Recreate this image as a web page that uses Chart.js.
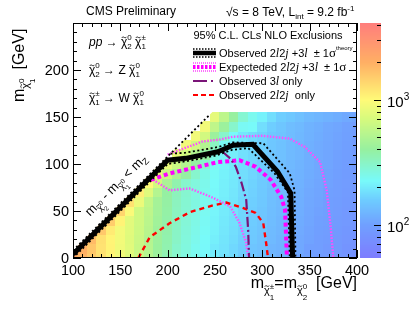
<!DOCTYPE html>
<html>
<head>
<meta charset="utf-8">
<script src="https://cdn.jsdelivr.net/npm/chart.js@4.4.1/dist/chart.umd.min.js"></script>
<style>
html, body { margin: 0; padding: 0; background: #fff; }
canvas { display: block; }
</style>
</head>
<body>
<canvas id="limitChart" width="416" height="310"></canvas>
<script>
// ============================================================================
// Data
// ============================================================================
const N = null;

// heat map cells: centres in chargino/neutralino2 mass (x) and LSP mass (y)
const cellX = [100, 110, 120, 130, 140, 150, 160, 170, 180, 190, 200, 210, 220, 230, 240, 250,
               260, 270, 280, 290, 300, 310, 320, 330, 340, 350, 360, 370, 380, 390, 400];
const cellY = [0, 10, 20, 30, 40, 50, 60, 70, 80, 90, 100, 110, 120, 130, 140, 150];

// cross section upper limit [fb], one row per cellY
const zRows = [
  [2240,1900,1560,1280,1040,900,750,640,520,430,350,305,262,243,218,203,184,176,156,150,136,128,118,113,105,101,94,92,86,84,78],
  [N,2000,1600,1250,1070,880,770,620,530,415,360,298,268,238,222,198,188,172,160,146,140,125,121,110,108,99,96,90,88,82,80],
  [N,N,1780,1270,1060,895,760,635,520,425,365,310,272,245,226,205,190,178,162,152,141,130,123,115,109,103,97,94,89,85,81],
  [N,N,N,1580,1150,900,770,650,540,430,370,312,275,250,230,210,194,180,166,154,144,132,125,117,111,104,99,95,91,86,83],
  [N,N,N,N,1510,1070,780,660,550,440,375,318,280,254,233,212,197,184,168,157,146,134,127,119,113,106,100,97,92,88,84],
  [N,N,N,N,N,1410,960,660,560,450,382,322,285,258,237,215,200,187,170,159,148,136,129,120,115,107,102,98,93,89,85],
  [N,N,N,N,N,N,1260,850,590,455,387,327,289,262,240,218,203,190,172,161,150,138,131,122,117,109,104,99,95,90,86],
  [N,N,N,N,N,N,N,1120,760,520,392,332,293,265,243,221,206,192,175,164,152,139,133,124,118,110,105,100,96,92,87],
  [N,N,N,N,N,N,N,N,1000,680,480,365,298,270,246,224,208,195,177,166,154,141,134,125,120,112,106,102,97,93,88],
  [N,N,N,N,N,N,N,N,N,890,630,480,390,298,252,228,211,198,180,168,157,143,136,127,121,114,108,103,99,94,90],
  [N,N,N,N,N,N,N,N,N,N,830,630,515,390,298,232,214,200,182,170,159,145,138,129,123,115,109,105,100,95,91],
  [N,N,N,N,N,N,N,N,N,N,N,830,680,515,390,250,217,203,184,172,161,147,140,130,125,117,111,106,101,97,92],
  [N,N,N,N,N,N,N,N,N,N,N,N,890,676,514,320,232,206,187,175,163,149,142,132,126,118,112,107,103,98,93],
  [N,N,N,N,N,N,N,N,N,N,N,N,N,890,676,420,300,222,192,178,166,151,144,134,128,120,114,109,104,100,95],
  [N,N,N,N,N,N,N,N,N,N,N,N,N,N,890,570,420,300,232,225,180,160,148,136,130,122,116,110,106,101,96],
  [N,N,N,N,N,N,N,N,N,N,N,N,N,N,N,800,560,400,290,240,210,180,160,150,140,130,125,120,115,110,105]
];

// colour axis range and ticks
const zMin = 54;
const zMax = 4130;
const zMajor = [100, 1000];
const zMinor = [60, 70, 80, 90, 200, 300, 400, 500, 600, 700, 800, 900, 2000, 3000, 4000];

// frame ticks
const xTicks = [100, 150, 200, 250, 300, 350, 400];
const yTicks = [0, 50, 100, 150, 200];

// exclusion contours
const obsX = [100, 200, 219, 253, 269, 290, 316, 330, 332];
const obsY = [4, 104, 106, 113, 120, 121, 92, 69, 0];
const obsUpDiagX = [100, 244];
const obsUpDiagY = [8, 152];
const obsUpX = [203, 219, 253, 269, 301, 329, 334, 335];
const obsUpY = [111, 112, 118, 123, 122, 90, 72, 0];
const obsDownX = [100, 200, 220, 251, 268, 285, 313, 327, 329];
const obsDownY = [0, 100, 103, 109, 115, 117, 90, 70, 0];

const expX = [182, 202, 228, 253, 276, 293, 309, 320, 324, 326];
const expY = [83, 90, 96, 102, 104, 97, 83, 65, 51, 0];
const expUpX = [200, 213, 237, 255, 269, 300, 329, 345, 361, 368, 372, 375];
const expUpY = [110, 115, 124, 126, 129, 130, 127, 118, 102, 72, 35, 0];
const expDownX = [182, 202, 223, 241, 248, 266, 276, 283, 285];
const expDownY = [85, 72, 74, 67, 64, 55, 37, 16, 0];

const threeLepX = [258, 266, 272, 278, 283, 285, 286];
const threeLepY = [113, 106, 97, 80, 62, 30, 0];
const twoLepX = [169, 181, 202, 224, 248, 262, 280, 293, 301, 304, 306];
const twoLepY = [0, 22, 37, 49, 56, 59, 53, 48, 37, 16, 0];

// ============================================================================
// Styles and helpers
// ============================================================================
const SANS = '"Liberation Sans", Arial, Helvetica, sans-serif';
const SERIF = '"Liberation Serif", "Times New Roman", serif';
const MAGENTA = '#ff00ff';
const MAGENTA_LIGHT = '#ff4dff';
const PURPLE = '#7a1478';

const f = (px, style) => `${style ? style + ' ' : ''}${px}px ${SANS}`;
const fserif = (px, style) => `${style ? style + ' ' : ''}${px}px ${SERIF}`;
// chi with a tilde drawn on top
const chi = (px, dy) => ({ t: '\u03c7', f: f(px), dy: dy || 0, tilde: px });

const paletteStops = [1.74, 2.0, 2.2, 2.35, 2.6, 2.85, 3.0, 3.3, 3.62];
const paletteRGB = [
  [125, 125, 255], [112, 160, 255], [110, 205, 255], [120, 250, 250], [150, 240, 160],
  [215, 250, 125], [255, 250, 120], [255, 175, 100], [255, 125, 125]
];

function zColor(z) {
  const t = Math.log10(z);
  if (t <= paletteStops[0]) return `rgb(${paletteRGB[0].join(',')})`;
  for (let i = 1; i < paletteStops.length; i++) {
    if (t <= paletteStops[i]) {
      const k = (t - paletteStops[i - 1]) / (paletteStops[i] - paletteStops[i - 1]);
      const a = paletteRGB[i - 1], b = paletteRGB[i];
      const c = a.map((v, j) => Math.round(v + (b[j] - v) * k));
      return `rgb(${c.join(',')})`;
    }
  }
  return `rgb(${paletteRGB[paletteRGB.length - 1].join(',')})`;
}

function pts(xs, ys) {
  return xs.map((v, i) => ({ x: v, y: ys[i] }));
}

function richWidth(ctx, parts) {
  let w = 0;
  parts.forEach(p => {
    ctx.font = p.f;
    if (p.st) w += Math.max(ctx.measureText(p.st[0]).width, ctx.measureText(p.st[1]).width);
    else w += ctx.measureText(p.t).width;
  });
  return w;
}

function drawRich(ctx, x, y, parts, align) {
  let cx = x;
  const w = richWidth(ctx, parts);
  if (align === 'center') cx -= w / 2;
  else if (align === 'right') cx -= w;
  ctx.textAlign = 'left';
  ctx.textBaseline = 'alphabetic';
  parts.forEach(p => {
    ctx.font = p.f;
    if (p.st) {
      const d = p.dys || [-6, 3];
      ctx.fillText(p.st[0], cx, y + d[0]);
      ctx.fillText(p.st[1], cx, y + d[1]);
      cx += Math.max(ctx.measureText(p.st[0]).width, ctx.measureText(p.st[1]).width);
    } else {
      const by = y + (p.dy || 0);
      const tw = ctx.measureText(p.t).width;
      ctx.fillText(p.t, cx, by);
      if (p.tilde) {
        const s = p.tilde, x0 = cx + tw * 0.12, x1 = cx + tw * 0.88, ty = by - s * 0.72, amp = s * 0.09;
        ctx.save();
        ctx.strokeStyle = ctx.fillStyle;
        ctx.lineWidth = Math.max(0.8, s * 0.07);
        ctx.beginPath();
        ctx.moveTo(x0, ty + amp * 0.5);
        ctx.bezierCurveTo(x0 + (x1 - x0) * 0.35, ty - amp * 2, x0 + (x1 - x0) * 0.65, ty + amp * 2, x1, ty - amp * 0.5);
        ctx.stroke();
        ctx.restore();
      }
      cx += tw;
    }
  });
}

function line(ctx, x0, y0, x1, y1, color, width, dash) {
  ctx.save();
  ctx.strokeStyle = color;
  ctx.lineWidth = width;
  ctx.setLineDash(dash || []);
  ctx.beginPath();
  ctx.moveTo(x0, y0);
  ctx.lineTo(x1, y1);
  ctx.stroke();
  ctx.restore();
}

// ============================================================================
// ROOT-like decorations plugin
// ============================================================================
const rootStyle = {
  id: 'rootStyle',
  beforeDraw(chart) {
    const ctx = chart.ctx;
    ctx.save();
    ctx.fillStyle = '#fff';
    ctx.fillRect(0, 0, chart.width, chart.height);
    ctx.restore();
  },
  beforeDatasetsDraw(chart) {
    const { ctx, chartArea: a, scales: { x, y } } = chart;
    // cells only below the kinematic boundary (upper dotted diagonal)
    const slope = (obsUpDiagY[1] - obsUpDiagY[0]) / (obsUpDiagX[1] - obsUpDiagX[0]);
    const xTop = obsUpDiagX[0] + (y.max - obsUpDiagY[0]) / slope;
    ctx.save();
    ctx.beginPath();
    ctx.rect(a.left, a.top, a.right - a.left, a.bottom - a.top);
    ctx.clip();
    ctx.beginPath();
    ctx.moveTo(x.getPixelForValue(obsUpDiagX[0]), y.getPixelForValue(obsUpDiagY[0]));
    ctx.lineTo(x.getPixelForValue(xTop), y.getPixelForValue(y.max));
    ctx.lineTo(x.getPixelForValue(x.max), y.getPixelForValue(y.max));
    ctx.lineTo(x.getPixelForValue(x.max), y.getPixelForValue(y.min));
    ctx.lineTo(x.getPixelForValue(x.min), y.getPixelForValue(y.min));
    ctx.lineTo(x.getPixelForValue(x.min), y.getPixelForValue(obsUpDiagY[0]));
    ctx.closePath();
    ctx.clip();
    zRows.forEach((row, r) => row.forEach((z, c) => {
      if (z === null) return;
      const x0 = Math.floor(x.getPixelForValue(cellX[c] - 5));
      const x1 = Math.ceil(x.getPixelForValue(cellX[c] + 5));
      const y0 = Math.floor(y.getPixelForValue(cellY[r] + 5));
      const y1 = Math.ceil(y.getPixelForValue(cellY[r] - 5));
      ctx.fillStyle = zColor(z);
      ctx.fillRect(x0, y0, x1 - x0, y1 - y0);
    }));
    ctx.restore();
  },
  afterDatasetsDraw(chart) {
    const { ctx, chartArea: a, scales: { x, y, z } } = chart;
    ctx.save();

    // frame
    ctx.strokeStyle = '#000';
    ctx.lineWidth = 1;
    ctx.strokeRect(a.left + 0.5, a.top + 0.5, a.right - a.left - 1, a.bottom - a.top - 1);

    // ticks, inside the frame on all four sides
    for (let v = x.min; v <= x.max; v += 10) {
      const px = Math.round(x.getPixelForValue(v)) + 0.5;
      const len = xTicks.includes(v) ? 8 : 4;
      line(ctx, px, a.bottom, px, a.bottom - len, '#000', 1);
      line(ctx, px, a.top, px, a.top + len, '#000', 1);
    }
    for (let v = y.min; v <= y.max; v += 10) {
      const py = Math.round(y.getPixelForValue(v)) + 0.5;
      const len = v % 50 === 0 ? 8 : 4;
      line(ctx, a.left, py, a.left + len, py, '#000', 1);
      line(ctx, a.right, py, a.right - len, py, '#000', 1);
    }

    // tick labels
    ctx.fillStyle = '#000';
    ctx.font = f(14.5);
    ctx.textAlign = 'center';
    ctx.textBaseline = 'alphabetic';
    xTicks.forEach(v => ctx.fillText(String(v), x.getPixelForValue(v), a.bottom + 17));
    ctx.textAlign = 'right';
    ctx.textBaseline = 'middle';
    yTicks.forEach(v => ctx.fillText(String(v), a.left - 4, y.getPixelForValue(v) + 1));

    // axis titles
    drawRich(ctx, a.right, a.bottom + 30, [
      { t: 'm', f: f(16) }, chi(11, 6), { st: ['\u00b1', '1'], f: f(8), dys: [1, 12] },
      { t: '=m', f: f(16) }, chi(11, 6), { st: ['0', '2'], f: f(8), dys: [1, 12] },
      { t: '  [GeV]', f: f(16) }
    ], 'right');
    ctx.save();
    ctx.translate(24, 102);
    ctx.rotate(-Math.PI / 2);
    drawRich(ctx, 0, 0, [
      { t: 'm', f: f(16) }, chi(11, 5), { st: ['0', '1'], f: f(8), dys: [0, 11] },
      { t: '  [GeV]', f: f(16) }
    ], 'left');
    ctx.restore();

    // colour bar
    const cbL = a.right + 3, cbR = a.right + 24;
    for (let py = Math.round(z.top); py < Math.round(z.bottom); py++) {
      ctx.fillStyle = zColor(z.getValueForPixel(py + 0.5));
      ctx.fillRect(cbL, py, cbR - cbL, 1);
    }
    zMinor.forEach(v => {
      const py = Math.round(z.getPixelForValue(v)) + 0.5;
      line(ctx, cbR, py, cbR - 4, py, '#000', 1);
    });
    ctx.fillStyle = '#000';
    zMajor.forEach(v => {
      const py = Math.round(z.getPixelForValue(v)) + 0.5;
      line(ctx, cbR, py, cbR - 7, py, '#000', 1);
      drawRich(ctx, cbR + 6, py + 6, [
        { t: '10', f: f(15) }, { t: String(Math.round(Math.log10(v))), f: f(10), dy: -7 }
      ], 'left');
    });

    // header texts
    drawRich(ctx, 131, 15, [{ t: 'CMS Preliminary', f: f(12) }], 'center');
    drawRich(ctx, 226, 16, [
      { t: '\u221as = 8 TeV, L', f: f(12) }, { t: 'int', f: f(8), dy: 3 },
      { t: ' = 9.2 fb', f: f(12) }, { t: '-1', f: f(8), dy: -5 }
    ], 'left');

    // process description
    drawRich(ctx, 89, 46, [
      { t: 'pp', f: f(12, 'italic') }, { t: ' \u2192 ', f: f(12) }, chi(12),
      { st: ['0', '2'], f: f(8) }, { t: ' ', f: f(12) }, chi(12), { st: ['\u00b1', '1'], f: f(8) }
    ], 'left');
    drawRich(ctx, 89, 74, [
      chi(12), { st: ['0', '2'], f: f(8) }, { t: ' \u2192 Z ', f: f(12) },
      chi(12), { st: ['0', '1'], f: f(8) }
    ], 'left');
    drawRich(ctx, 89, 102, [
      chi(12), { st: ['\u00b1', '1'], f: f(8) }, { t: ' \u2192 W ', f: f(12) },
      chi(12), { st: ['0', '1'], f: f(8) }
    ], 'left');

    // kinematic boundary label along the diagonal
    const ang = Math.atan2(y.getPixelForValue(100) - y.getPixelForValue(0),
                           x.getPixelForValue(200) - x.getPixelForValue(100));
    ctx.save();
    ctx.translate(x.getPixelForValue(118), y.getPixelForValue(44));
    ctx.rotate(ang);
    drawRich(ctx, 0, 0, [
      { t: 'm', f: f(13) }, chi(9, 4), { st: ['0', '2'], f: f(6.5), dys: [0, 8] },
      { t: ' - m', f: f(13) }, chi(9, 4), { st: ['0', '1'], f: f(6.5), dys: [0, 8] },
      { t: ' < m', f: f(13) }, { t: 'Z', f: f(9), dy: 3 }
    ], 'left');
    ctx.restore();

    // legend
    const lx0 = 193, lx1 = 216, tx = 219;
    drawRich(ctx, 268, 39, [{ t: '95% C.L. CLs NLO Exclusions', f: f(11) }], 'center');
    line(ctx, lx0, 49, lx1, 49, '#000', 1.6, [1.5, 1.5]);
    line(ctx, lx0, 57, lx1, 57, '#000', 1.6, [1.5, 1.5]);
    line(ctx, lx0, 53, lx1, 53, '#000', 4.5);
    line(ctx, lx0, 63, lx1, 63, MAGENTA_LIGHT, 1.6, [1, 1]);
    line(ctx, lx0, 71, lx1, 71, MAGENTA_LIGHT, 1.6, [1, 1]);
    line(ctx, lx0, 67, lx1, 67, MAGENTA, 4, [2.5, 1.5]);
    line(ctx, lx0, 81, lx1, 81, PURPLE, 2, [14, 4, 2, 4]);
    line(ctx, lx0, 95, lx1, 95, '#ff0000', 2, [5, 3]);

    const il = { t: 'l', f: fserif(12, 'italic') };
    const ij = { t: 'j', f: fserif(12, 'italic') };
    drawRich(ctx, tx, 57, [
      { t: 'Observed 2', f: f(11) }, il, { t: '2', f: f(11) }, ij, { t: ' +3', f: f(11) }, il,
      { t: '  \u00b1 1', f: f(11) }, { t: '\u03c3', f: fserif(13) }, { t: 'theory', f: f(6), dy: -7 }
    ], 'left');
    drawRich(ctx, tx, 71, [
      { t: 'Expecteded 2', f: f(11) }, il, { t: '2', f: f(11) }, ij, { t: ' +3', f: f(11) }, il,
      { t: '  \u00b1 1', f: f(11) }, { t: '\u03c3', f: fserif(13) }
    ], 'left');
    drawRich(ctx, tx, 85, [{ t: 'Observed 3', f: f(11) }, il, { t: ' only', f: f(11) }], 'left');
    drawRich(ctx, tx, 99, [
      { t: 'Observed 2', f: f(11) }, il, { t: '2', f: f(11) }, ij, { t: '  only', f: f(11) }
    ], 'left');

    ctx.restore();
  }
};

// ============================================================================
// Chart
// ============================================================================
const contour = (xs, ys, color, width, dash) => ({
  data: pts(xs, ys),
  showLine: true,
  borderColor: color,
  backgroundColor: color,
  borderWidth: width,
  borderDash: dash || [],
  pointRadius: 0,
  fill: false,
  clip: 0
});

new Chart(document.getElementById('limitChart'), {
  type: 'scatter',
  data: {
    // first dataset is drawn on top
    datasets: [
      contour(obsX, obsY, '#000', 5),
      contour(obsUpDiagX, obsUpDiagY, '#000', 1.8, [2, 2.5]),
      contour(obsUpX, obsUpY, '#000', 1.8, [2, 2.5]),
      contour(obsDownX, obsDownY, '#000', 1.8, [2, 2.5]),
      contour(threeLepX, threeLepY, PURPLE, 2.2, [10, 3, 2, 3]),
      contour(twoLepX, twoLepY, '#ff0000', 2.4, [5, 4]),
      contour(expX, expY, MAGENTA, 4, [4, 3]),
      contour(expUpX, expUpY, MAGENTA_LIGHT, 2.4, [1.5, 1.5]),
      contour(expDownX, expDownY, MAGENTA_LIGHT, 2.4, [1.5, 1.5])
    ]
  },
  options: {
    responsive: false,
    animation: false,
    layout: { padding: { left: 73, right: 59, top: 23, bottom: 52 } },
    scales: {
      x: { type: 'linear', min: 100, max: 400, display: false },
      y: { type: 'linear', min: 0, max: 250, display: false },
      z: { type: 'logarithmic', axis: 'y', min: zMin, max: zMax, display: false }
    },
    plugins: {
      legend: { display: false },
      tooltip: { enabled: false }
    }
  },
  plugins: [rootStyle]
});
</script>
</body>
</html>
